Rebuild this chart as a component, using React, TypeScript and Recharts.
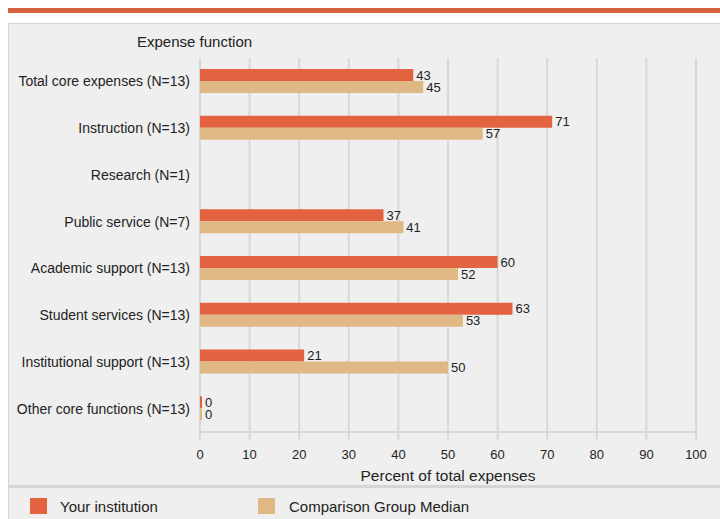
import React from 'react';
import { BarChart, Bar, XAxis, YAxis, CartesianGrid, LabelList } from 'recharts';

const categories = [
  'Total core expenses (N=13)',
  'Instruction (N=13)',
  'Research (N=1)',
  'Public service (N=7)',
  'Academic support (N=13)',
  'Student services (N=13)',
  'Institutional support (N=13)',
  'Other core functions (N=13)',
];
const yourInstitution: (number | null)[] = [43, 71, null, 37, 60, 63, 21, 0];
const comparisonMedian: (number | null)[] = [45, 57, null, 41, 52, 53, 50, 0];
const xTicks = [0, 10, 20, 30, 40, 50, 60, 70, 80, 90, 100];

const data = categories.map((name, i) => ({
  name,
  yours: yourInstitution[i],
  median: comparisonMedian[i],
}));

const ORANGE = '#E36240';
const TAN = '#DFB886';
const GRID = '#D8D8D8';
const FONT = '"Liberation Sans", Arial, Helvetica, sans-serif';

const fmt = (v: any) => (v === null || v === undefined ? '' : String(v));
const minSize = (v: any) => (v === 0 ? 2 : 0);

export default function App() {
  return (
    <div style={{ position: 'fixed', left: 0, top: 0, width: 720, height: 519, overflow: 'hidden', fontFamily: FONT }}>
      <div style={{ position: 'absolute', left: 8, top: 8, width: 712 }}>
        <div style={{ height: 5, background: '#D9623E', marginBottom: 10 }} />
        <div
          style={{
            position: 'relative',
            height: 496,
            background: '#EFEFEF',
            borderTop: '1px solid #D3D3D3',
            borderLeft: '1px solid #D3D3D3',
            boxSizing: 'border-box',
            overflow: 'hidden',
          }}
        >
          <BarChart
            width={711}
            height={461}
            data={data}
            layout="vertical"
            margin={{ top: 34, right: 24, bottom: 0, left: 0 }}
            barSize={12}
            barGap={0}
          >
            <CartesianGrid horizontal={false} stroke={GRID} strokeWidth={2} />
            <XAxis
              type="number"
              domain={[0, 100]}
              ticks={xTicks}
              interval={0}
              height={53}
              axisLine={{ stroke: GRID, strokeWidth: 2 }}
              tickLine={{ stroke: GRID, strokeWidth: 2 }}
              tickSize={8}
              tickMargin={10}
              tick={{ fontSize: 13, fill: '#222', fontFamily: FONT }}
              label={{
                value: 'Percent of total expenses',
                position: 'insideBottom',
                offset: 4,
                fontSize: 15.5,
                fill: '#222',
                fontFamily: FONT,
              }}
            />
            <XAxis
              xAxisId="top"
              orientation="top"
              type="number"
              domain={[0, 100]}
              height={0}
              tick={false}
              tickLine={false}
              axisLine={{ stroke: GRID, strokeWidth: 2 }}
            />
            <YAxis
              type="category"
              dataKey="name"
              width={191}
              axisLine={false}
              tickLine={false}
              tickMargin={4}
              interval={0}
              tick={{ fontSize: 14, fill: '#222', fontFamily: FONT }}
              label={{
                content: (props: any) => {
                  const vb = props.viewBox || { x: 0, y: 34 };
                  return (
                    <text x={128} y={vb.y - 11} fontSize={15} fill="#222" fontFamily={FONT}>
                      Expense function
                    </text>
                  );
                },
              }}
            />
            <Bar dataKey="yours" fill={ORANGE} isAnimationActive={false} minPointSize={minSize}>
              <LabelList dataKey="yours" position="right" offset={3} fontSize={13} fill="#222" formatter={fmt} />
            </Bar>
            <Bar dataKey="median" fill={TAN} isAnimationActive={false} minPointSize={minSize}>
              <LabelList dataKey="median" position="right" offset={3} fontSize={13} fill="#222" formatter={fmt} />
            </Bar>
          </BarChart>
          <div style={{ height: 3, background: '#D6D6D6' }} />
          <div style={{ position: 'absolute', left: 21, top: 474, width: 17, height: 16, background: ORANGE }} />
          <div style={{ position: 'absolute', left: 51, top: 474, fontSize: 15, color: '#222' }}>Your institution</div>
          <div style={{ position: 'absolute', left: 249, top: 474, width: 17, height: 16, background: TAN }} />
          <div style={{ position: 'absolute', left: 280, top: 474, fontSize: 15, color: '#222' }}>Comparison Group Median</div>
        </div>
      </div>
    </div>
  );
}
